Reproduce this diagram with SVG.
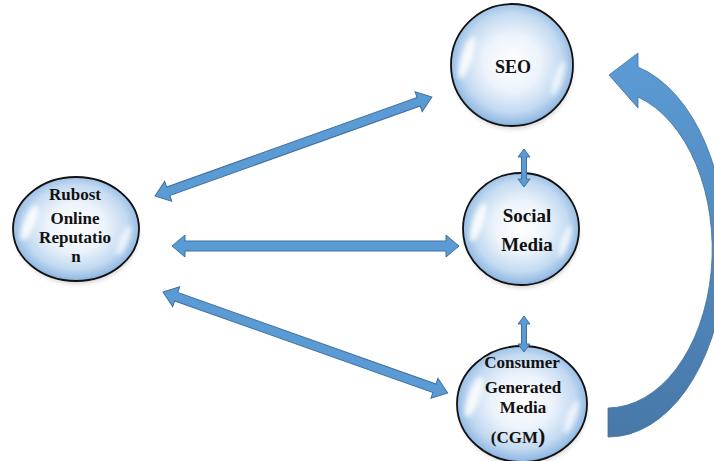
<svg xmlns="http://www.w3.org/2000/svg" xmlns:xlink="http://www.w3.org/1999/xlink" width="714" height="461" viewBox="0 0 714 461">
  <defs>
    <radialGradient id="bub" cx="50%" cy="48%" r="52%">
      <stop offset="0" stop-color="#ffffff"/>
      <stop offset="0.45" stop-color="#ecf3fb"/>
      <stop offset="0.78" stop-color="#c3daf1"/>
      <stop offset="0.94" stop-color="#9bbfe6"/>
      <stop offset="1" stop-color="#86afdc"/>
    </radialGradient>
    <linearGradient id="curveGrad" x1="0" y1="0" x2="0" y2="1">
      <stop offset="0" stop-color="#5b9bd5"/>
      <stop offset="1" stop-color="#4778a8"/>
    </linearGradient>
    <filter id="soft" x="-50%" y="-50%" width="200%" height="200%">
      <feGaussianBlur stdDeviation="0.04"/>
    </filter>
    <filter id="shadow" x="-20%" y="-20%" width="140%" height="140%">
      <feGaussianBlur stdDeviation="2"/>
    </filter>
    <g id="hl">
      <ellipse cx="-0.74" cy="-0.12" rx="0.09" ry="0.36" transform="rotate(18 -0.74 -0.12)" fill="#ffffff" opacity="0.85" filter="url(#soft)"/>
      <ellipse cx="0.76" cy="0.22" rx="0.07" ry="0.3" transform="rotate(18 0.76 0.22)" fill="#ffffff" opacity="0.7" filter="url(#soft)"/>
    </g>
  </defs>
  <style>
    .bubble { fill: url(#bub); stroke: #111111; stroke-width: 1.8; }
    .shadow { fill: #777777; opacity: 0.3; filter: url(#shadow); }
    .lbl { font-family: 'Liberation Serif', 'DejaVu Serif', 'Times New Roman', serif; font-weight: bold; fill: #111111; text-anchor: middle; }
    .arr { fill: #5b9bd5; stroke: #41719c; stroke-width: 1; }
  </style>
  <rect width="714" height="461" fill="#ffffff"/>

  <g id="node-rubost">
    <ellipse class="shadow" cx="77" cy="233" rx="62" ry="51"/>
    <ellipse class="bubble" cx="76" cy="229" rx="63" ry="52"/>
    <use xlink:href="#hl" transform="translate(76 229) scale(63 52)"/>
    <text class="lbl" font-size="17" x="75" y="200">Rubost</text>
    <text class="lbl" font-size="17" x="75" y="224">Online</text>
    <text class="lbl" font-size="17" x="75" y="243">Reputatio</text>
    <text class="lbl" font-size="17" x="76" y="262">n</text>
  </g>

  <g id="node-seo">
    <ellipse class="shadow" cx="513" cy="69" rx="60" ry="60"/>
    <ellipse class="bubble" cx="512" cy="65" rx="61" ry="61"/>
    <use xlink:href="#hl" transform="translate(512 65) scale(61 61)"/>
    <text class="lbl" font-size="18" x="513" y="73">SEO</text>
  </g>

  <g id="node-social">
    <ellipse class="shadow" cx="522" cy="233" rx="57" ry="55"/>
    <ellipse class="bubble" cx="521" cy="229" rx="58" ry="56"/>
    <use xlink:href="#hl" transform="translate(521 229) scale(58 56)"/>
    <text class="lbl" font-size="19" x="527" y="222">Social</text>
    <text class="lbl" font-size="19" x="527" y="251">Media</text>
  </g>

  <g id="node-cgm">
    <ellipse class="shadow" cx="523" cy="408" rx="64" ry="57"/>
    <ellipse class="bubble" cx="522" cy="404" rx="65" ry="58"/>
    <use xlink:href="#hl" transform="translate(522 404) scale(65 58)"/>
    <text class="lbl" font-size="17" x="522" y="368">Consumer</text>
    <text class="lbl" font-size="17" x="523" y="393">Generated</text>
    <text class="lbl" font-size="17" x="523" y="413">Media</text>
    <text class="lbl" font-size="17" x="518" y="443">(CGM<tspan font-size="22">)</tspan></text>
  </g>

  <g id="connectors">
    <!-- Rubost <-> SEO -->
    <polygon class="arr" transform="translate(155 196) rotate(-19.67)" points="0,0 14,-10.5 14,-4.5 280,-4.5 280,-10.5 294,0 280,10.5 280,4.5 14,4.5 14,10.5"/>
    <!-- Rubost <-> Social Media -->
    <polygon class="arr" transform="translate(172 246)" points="0,0 13,-11 13,-5 274,-5 274,-11 287,0 274,11 274,5 13,5 13,11"/>
    <!-- Rubost <-> CGM -->
    <polygon class="arr" transform="translate(163 292) rotate(19.52)" points="0,0 14,-10.5 14,-4.5 288,-4.5 288,-10.5 302,0 288,10.5 288,4.5 14,4.5 14,10.5"/>
    <!-- SEO <-> Social Media -->
    <polygon class="arr" transform="translate(524 149) rotate(90)" points="0,0 8,-6 8,-2.5 30,-2.5 30,-6 38,0 30,6 30,2.5 8,2.5 8,6"/>
    <!-- Social Media <-> CGM -->
    <polygon class="arr" transform="translate(524 316) rotate(90)" points="0,0 8,-6 8,-2.5 28,-2.5 28,-6 36,0 28,6 28,2.5 8,2.5 8,6"/>
    <!-- curved arrow CGM -> SEO -->
    <path fill="url(#curveGrad)" stroke="#41719c" stroke-width="0.8" d="M 608 437 A 117 188 0 0 0 638 67 L 638 53 L 609 75 L 638 108 L 638 97 A 105 159 0 0 1 608 408 Z"/>
  </g>
</svg>
